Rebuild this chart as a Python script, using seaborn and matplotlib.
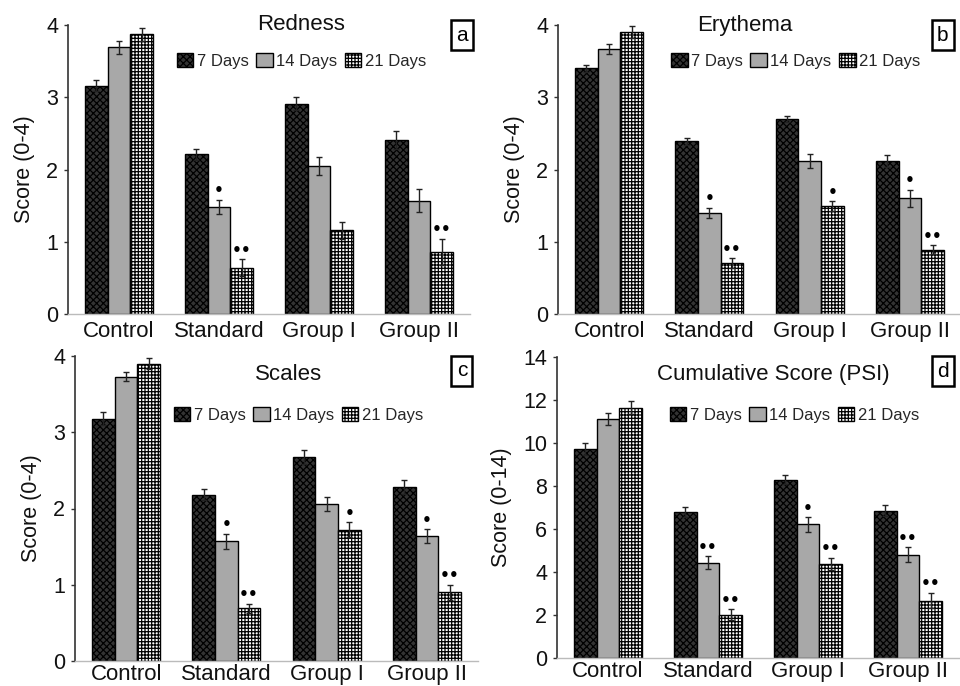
import numpy as np
import pandas as pd
import matplotlib
matplotlib.use("Agg")
import matplotlib.pyplot as plt
import seaborn as sns

# ---- data ----
groups = ["Control", "Standard", "Group I", "Group II"]
days = ["7 Days", "14 Days", "21 Days"]

redness_mean = [[3.16, 2.21, 2.91, 2.41],
                [3.69, 1.48, 2.05, 1.57],
                [3.87, 0.64, 1.16, 0.86]]
redness_err = [[0.08, 0.08, 0.09, 0.12],
               [0.09, 0.10, 0.12, 0.16],
               [0.09, 0.12, 0.12, 0.18]]
redness_marks = [["", "", "", ""],
                 ["", "•", "", ""],
                 ["", "••", "", "••"]]

erythema_mean = [[3.40, 2.39, 2.70, 2.12],
                 [3.67, 1.40, 2.12, 1.60],
                 [3.90, 0.70, 1.49, 0.89]]
erythema_err = [[0.05, 0.05, 0.04, 0.08],
                [0.07, 0.07, 0.10, 0.12],
                [0.08, 0.07, 0.07, 0.06]]
erythema_marks = [["", "", "", ""],
                  ["", "•", "", "•"],
                  ["", "••", "•", "••"]]

scales_mean = [[3.18, 2.18, 2.68, 2.28],
               [3.73, 1.57, 2.06, 1.64],
               [3.90, 0.69, 1.72, 0.90]]
scales_err = [[0.09, 0.07, 0.09, 0.09],
              [0.06, 0.10, 0.09, 0.09],
              [0.07, 0.06, 0.10, 0.10]]
scales_marks = [["", "", "", ""],
                ["", "•", "", "•"],
                ["", "••", "•", "••"]]

psi_mean = [[9.73, 6.78, 8.30, 6.86],
            [11.10, 4.44, 6.21, 4.81],
            [11.64, 2.02, 4.38, 2.67]]
psi_err = [[0.28, 0.24, 0.22, 0.26],
           [0.28, 0.30, 0.34, 0.33],
           [0.30, 0.26, 0.28, 0.36]]
psi_marks = [["", "", "", ""],
             ["", "••", "•", "••"],
             ["", "••", "••", "••"]]

panel_titles = ["Redness", "Erythema", "Scales", "Cumulative Score (PSI)"]
panel_letters = ["a", "b", "c", "d"]
panel_ylabels = ["Score (0-4)", "Score (0-4)", "Score (0-4)", "Score (0-14)"]

# ---- style ----
sns.set_theme(style="white")
plt.rcParams["font.family"] = ["Liberation Sans", "DejaVu Sans"]
plt.rcParams["hatch.linewidth"] = 0.9

fig = plt.figure(figsize=(9.6, 6.86), dpi=100)
W, H = 960, 686

def box(l, r, t, b):
    return [l / W, (H - b) / H, (r - l) / W, (b - t) / H]

panels = [
    dict(mean=redness_mean, err=redness_err, marks=redness_marks, ymax=4, step=1,
         rect=box(68, 470, 25, 314), title_xy=(0.58, 1.0), letter_xy=(0.98, 0.965),
         leg_xy=(0.27, 0.875), xpad=5),
    dict(mean=erythema_mean, err=erythema_err, marks=erythema_marks, ymax=4, step=1,
         rect=box(558, 961, 25, 314), title_xy=(0.464, 1.0), letter_xy=(0.955, 0.965),
         leg_xy=(0.28, 0.875), xpad=5),
    dict(mean=scales_mean, err=scales_err, marks=scales_marks, ymax=4, step=1,
         rect=box(75, 478, 356, 661), title_xy=(0.53, 0.94), letter_xy=(0.96, 0.951),
         leg_xy=(0.245, 0.807), xpad=2),
    dict(mean=psi_mean, err=psi_err, marks=psi_marks, ymax=14, step=2,
         rect=box(557, 959, 357, 658), title_xy=(0.537, 0.943), letter_xy=(0.96, 0.953),
         leg_xy=(0.28, 0.807), xpad=2),
]

palette = {"7 Days": "#333333", "14 Days": "#a8a8a8", "21 Days": "#ffffff"}
hatches = {"7 Days": "xxxxx", "14 Days": "", "21 Days": "+++++"}

for p, title, letter, ylab in zip(panels, panel_titles, panel_letters, panel_ylabels):
    ax = fig.add_axes(p["rect"])
    rows = []
    for d, mrow in zip(days, p["mean"]):
        for g, v in zip(groups, mrow):
            rows.append({"group": g, "day": d, "score": v})
    df = pd.DataFrame(rows)
    sns.barplot(data=df, x="group", y="score", hue="day", order=groups, hue_order=days,
                palette=palette, width=0.68, errorbar=None, legend=False, ax=ax,
                edgecolor="black", linewidth=1.0, saturation=1)
    for cont, d, erow, krow in zip(ax.containers, days, p["err"], p["marks"]):
        xs, hs = [], []
        for patch in cont.patches:
            patch.set_hatch(hatches[d])
            patch.set_edgecolor("black")
            xs.append(patch.get_x() + patch.get_width() / 2)
            hs.append(patch.get_height())
        ax.errorbar(xs, hs, yerr=erow, fmt="none", ecolor="#222222", elinewidth=1.0,
                    capsize=2.5, capthick=1.0, zorder=5)
        for x, h, e, k in zip(xs, hs, erow, krow):
            if k:
                ax.annotate(k, (x, h + e), xytext=(0, 1), textcoords="offset points",
                            ha="center", va="bottom", fontsize=11, fontweight="bold",
                            color="black", family=["DejaVu Sans"])
    ax.set_xlim(-0.51, 3.51)
    ax.set_ylim(0, p["ymax"])
    ax.set_yticks(np.arange(0, p["ymax"] + 0.01, p["step"]))
    ax.set_xlabel("")
    ax.set_ylabel(ylab, fontsize=15.5, labelpad=8, color="#111111")
    ax.tick_params(axis="y", labelsize=15.5, length=3, width=1, direction="out",
                   left=True, pad=4, color="#333333", labelcolor="#111111")
    ax.tick_params(axis="x", labelsize=16, length=0, pad=p["xpad"], labelcolor="#111111")
    for s in ["top", "right"]:
        ax.spines[s].set_visible(False)
    ax.spines["left"].set_color("#333333")
    ax.spines["left"].set_linewidth(1.2)
    ax.spines["bottom"].set_color("#bbbbbb")
    ax.spines["bottom"].set_linewidth(1.0)
    ax.text(p["title_xy"][0], p["title_xy"][1], title, transform=ax.transAxes,
            ha="center", va="center", fontsize=16, color="#111111")
    ax.text(p["letter_xy"][0], p["letter_xy"][1], letter, transform=ax.transAxes,
            ha="center", va="center", fontsize=15, color="black",
            bbox=dict(boxstyle="square,pad=0.25", facecolor="white", edgecolor="black",
                      linewidth=1.8))
    ax.legend(handles=list(ax.containers), labels=days, loc="center left",
              bbox_to_anchor=p["leg_xy"], ncol=3, frameon=False, fontsize=12,
              handlelength=1.0, handleheight=0.9, handletextpad=0.2,
              columnspacing=0.45, borderpad=0, borderaxespad=0)

fig.savefig("out.png", dpi=100, facecolor="white")
